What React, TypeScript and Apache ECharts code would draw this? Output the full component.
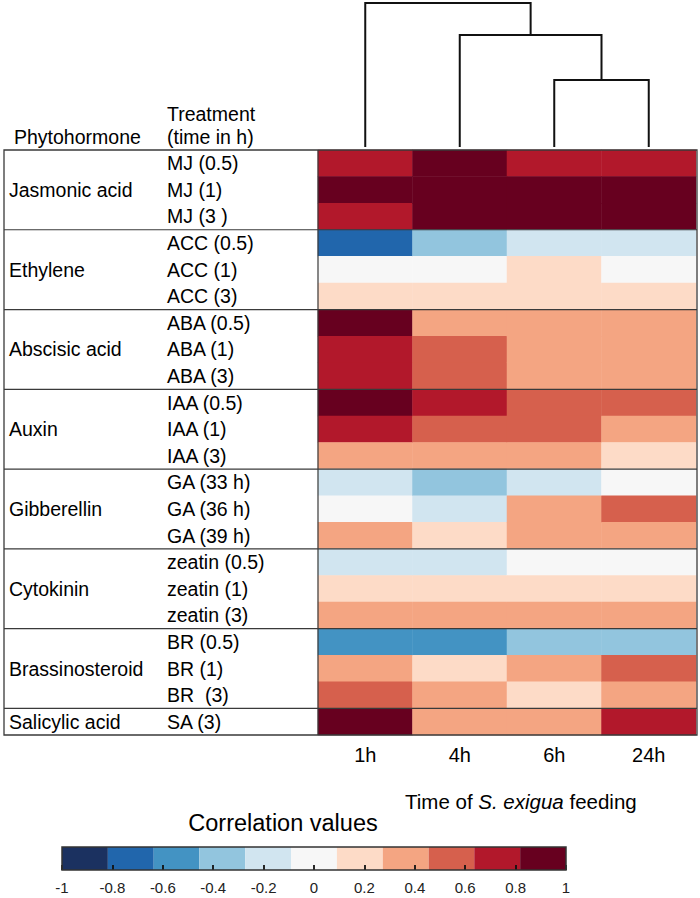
import React, { useEffect, useRef } from "react";
import * as echarts from "echarts";

// ---------- data ----------
const timePoints = ["1h", "4h", "6h", "24h"];
const treatments = [
  "MJ (0.5)", "MJ (1)", "MJ (3 )",
  "ACC (0.5)", "ACC (1)", "ACC (3)",
  "ABA (0.5)", "ABA (1)", "ABA (3)",
  "IAA (0.5)", "IAA (1)", "IAA (3)",
  "GA (33 h)", "GA (36 h)", "GA (39 h)",
  "zeatin (0.5)", "zeatin (1)", "zeatin (3)",
  "BR (0.5)", "BR (1)", "BR  (3)",
  "SA (3)",
];
const hormoneGroups = [
  "Jasmonic acid", "Ethylene", "Abscisic acid", "Auxin",
  "Gibberellin", "Cytokinin", "Brassinosteroid", "Salicylic acid",
];
const groupSizes = [3, 3, 3, 3, 3, 3, 3, 1];

const corr1h = [0.75, 0.9, 0.75, -0.73, 0, 0.18, 0.9, 0.75, 0.75, 0.9, 0.75, 0.35, -0.18, 0, 0.35, -0.18, 0.18, 0.35, -0.55, 0.35, 0.55, 0.9];
const corr4h = [0.9, 0.9, 0.9, -0.36, 0, 0.18, 0.35, 0.55, 0.55, 0.75, 0.55, 0.35, -0.36, -0.18, 0.18, -0.18, 0.18, 0.35, -0.55, 0.18, 0.35, 0.35];
const corr6h = [0.75, 0.9, 0.9, -0.18, 0.18, 0.18, 0.35, 0.35, 0.35, 0.55, 0.55, 0.35, -0.18, 0.35, 0.35, 0, 0.18, 0.35, -0.36, 0.35, 0.18, 0.35];
const corr24h = [0.75, 0.9, 0.9, -0.18, 0, 0.18, 0.35, 0.35, 0.35, 0.55, 0.35, 0.18, 0, 0.55, 0.35, 0, 0.18, 0.35, -0.36, 0.55, 0.35, 0.75];
const corrByTime = [corr1h, corr4h, corr6h, corr24h];

const palette = ["#1b3160", "#2166ac", "#4393c3", "#92c5de", "#d1e5f0", "#f7f7f7", "#fddbc7", "#f4a582", "#d6604d", "#b2182b", "#67001f"];
const colorBreaks = [-1, -0.818, -0.636, -0.455, -0.273, -0.091, 0.091, 0.273, 0.455, 0.636, 0.818, 1];

// dendrogram (hclust style: 0..3 leaves, 4+ merged nodes)
const dendroMerges = [[2, 3], [1, 4], [0, 5]];
const dendroHeights = [0.465, 0.778, 1.0];

// ---------- layout ----------
const FONT = "'Liberation Sans', Arial, Helvetica, sans-serif";
const HM_LEFT = 318, HM_TOP = 150, HM_W = 378, HM_H = 585;
const TABLE_LEFT = 4;
const CB_LEFT = 62, CB_TOP = 847, CB_W = 504, CB_H = 23;
const LINE_COLOR = "#3a3a3a";
const TXT = 19.5;

export default function App() {
  const ref = useRef<HTMLDivElement>(null);

  useEffect(() => {
    document.body.style.margin = "0";
    if (!ref.current) return;
    const chart = echarts.init(ref.current, undefined, { renderer: "svg" });

    const heatData: number[][] = [];
    corrByTime.forEach((col, xi) => col.forEach((v, yi) => heatData.push([xi, yi, v])));

    // dendrogram segments
    const nodes: { x: number; h: number }[] = timePoints.map((_, i) => ({ x: i + 0.5, h: 0 }));
    const dendroSegs: number[][][] = [];
    dendroMerges.forEach((m, k) => {
      const a = nodes[m[0]], b = nodes[m[1]], H = dendroHeights[k];
      dendroSegs.push([[a.x, a.h], [a.x, H], [b.x, H], [b.x, b.h]]);
      nodes.push({ x: (a.x + b.x) / 2, h: H });
    });

    const cbData = palette.map((_, k) => [colorBreaks[k], colorBreaks[k + 1], k]);

    const rowH = HM_H / treatments.length;
    const graphics: any[] = [];
    // table frame
    graphics.push({
      type: "rect", z: 100, silent: true,
      shape: { x: TABLE_LEFT, y: HM_TOP, width: HM_LEFT + HM_W + 1 - TABLE_LEFT, height: HM_H },
      style: { fill: "none", stroke: LINE_COLOR, lineWidth: 1.3 },
    });
    graphics.push({
      type: "line", z: 100, silent: true,
      shape: { x1: HM_LEFT, y1: HM_TOP, x2: HM_LEFT, y2: HM_TOP + HM_H },
      style: { stroke: LINE_COLOR, lineWidth: 1.2 },
    });
    let rowStart = 0;
    groupSizes.forEach((n, g) => {
      const yMid = HM_TOP + (rowStart + n / 2) * rowH;
      graphics.push({
        type: "text", z: 100, silent: true, x: TABLE_LEFT + 5, y: yMid,
        style: { text: hormoneGroups[g], fontSize: TXT, fontFamily: FONT, fill: "#000", align: "left", verticalAlign: "middle" },
      });
      rowStart += n;
      if (rowStart < treatments.length) {
        const y = HM_TOP + rowStart * rowH;
        graphics.push({
          type: "line", z: 100, silent: true,
          shape: { x1: TABLE_LEFT, y1: y, x2: HM_LEFT + HM_W + 1, y2: y },
          style: { stroke: LINE_COLOR, lineWidth: 1.2 },
        });
      }
    });
    // headers
    graphics.push({
      type: "text", z: 100, silent: true, x: 14, y: 137,
      style: { text: "Phytohormone", fontSize: TXT, fontFamily: FONT, fill: "#000", align: "left", verticalAlign: "middle" },
    });
    graphics.push({
      type: "text", z: 100, silent: true, x: 167, y: 114,
      style: { text: "Treatment", fontSize: TXT, fontFamily: FONT, fill: "#000", align: "left", verticalAlign: "middle" },
    });
    graphics.push({
      type: "text", z: 100, silent: true, x: 167, y: 137,
      style: { text: "(time in h)", fontSize: TXT, fontFamily: FONT, fill: "#000", align: "left", verticalAlign: "middle" },
    });
    // axis title
    graphics.push({
      type: "text", z: 100, silent: true, x: 405, y: 801,
      style: {
        text: "{n|Time of }{i|S. exigua}{n| feeding}",
        align: "left", verticalAlign: "middle",
        rich: {
          n: { fontSize: 20.5, fontFamily: FONT, fill: "#000" },
          i: { fontSize: 20.5, fontFamily: FONT, fontStyle: "italic", fill: "#000" },
        },
      },
    });
    graphics.push({
      type: "text", z: 100, silent: true, x: 283, y: 823,
      style: { text: "Correlation values", fontSize: 23.5, fontFamily: FONT, fill: "#000", align: "center", verticalAlign: "middle" },
    });
    graphics.push({
      type: "rect", z: 100, silent: true,
      shape: { x: CB_LEFT, y: CB_TOP, width: CB_W, height: CB_H },
      style: { fill: "none", stroke: "#333", lineWidth: 1.5 },
    });

    const option: any = {
      animation: false,
      backgroundColor: "#ffffff",
      textStyle: { fontFamily: FONT },
      grid: [
        { left: HM_LEFT, top: HM_TOP, width: HM_W, height: HM_H },
        { left: HM_LEFT, top: 3, width: HM_W, height: 144 },
        { left: CB_LEFT, top: CB_TOP, width: CB_W, height: CB_H },
      ],
      xAxis: [
        {
          type: "category", gridIndex: 0, data: timePoints, position: "bottom",
          axisLine: { show: false }, axisTick: { show: false }, splitLine: { show: false },
          axisLabel: { fontSize: 20, color: "#000", margin: 10, fontFamily: FONT },
        },
        { type: "value", gridIndex: 1, min: 0, max: timePoints.length, show: false },
        {
          type: "value", gridIndex: 2, min: -1, max: 1, interval: 0.2, z: 10,
          axisLine: { show: false },
          axisTick: { show: true, inside: true, length: 5, lineStyle: { color: "#111", width: 1.8 } },
          splitLine: { show: false },
          axisLabel: { fontSize: 15, color: "#222", margin: 10, fontFamily: FONT, showMinLabel: true, showMaxLabel: true },
        },
      ],
      yAxis: [
        {
          type: "category", gridIndex: 0, data: treatments, inverse: true,
          axisLine: { show: false }, axisTick: { show: false }, splitLine: { show: false },
          axisLabel: { fontSize: TXT, color: "#000", align: "left", margin: HM_LEFT - 167, fontFamily: FONT, interval: 0 },
        },
        { type: "value", gridIndex: 1, min: 0, max: 1, show: false },
        { type: "value", gridIndex: 2, min: 0, max: 1, show: false },
      ],
      visualMap: {
        type: "piecewise", show: false, seriesIndex: 0, dimension: 2,
        pieces: palette.map((c, k) =>
          k === palette.length - 1
            ? { gte: colorBreaks[k], lte: colorBreaks[k + 1], color: c }
            : { gte: colorBreaks[k], lt: colorBreaks[k + 1], color: c }
        ),
      },
      graphic: graphics,
      series: [
        {
          type: "heatmap", xAxisIndex: 0, yAxisIndex: 0, data: heatData, silent: true,
          itemStyle: { borderWidth: 0 },
        },
        {
          type: "lines", coordinateSystem: "cartesian2d", xAxisIndex: 1, yAxisIndex: 1,
          polyline: true, silent: true,
          data: dendroSegs.map((c) => ({ coords: c })),
          lineStyle: { color: "#111", width: 2, opacity: 1 },
        },
        {
          type: "custom", xAxisIndex: 2, yAxisIndex: 2, data: cbData, silent: true,
          renderItem: (params: any, api: any) => {
            const p0 = api.coord([api.value(0), 0]);
            const p1 = api.coord([api.value(1), 1]);
            return {
              type: "rect",
              shape: { x: p0[0], y: p1[1], width: p1[0] - p0[0], height: p0[1] - p1[1] },
              style: { fill: palette[api.value(2)] },
            };
          },
        },
      ],
    };
    chart.setOption(option);
    return () => chart.dispose();
  }, []);

  return <div ref={ref} style={{ width: 700, height: 898 }} />;
}
